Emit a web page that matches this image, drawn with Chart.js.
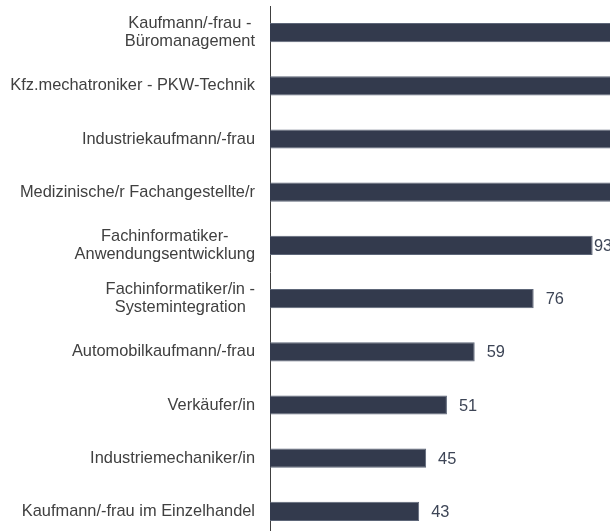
<!DOCTYPE html>
<html>
<head>
<meta charset="utf-8">
<style>
  html, body { margin: 0; padding: 0; overflow: hidden; background: #ffffff; }
  #wrap { position: absolute; left: 0; top: 0; width: 610px; height: 539px; }
</style>
</head>
<body>
<div id="wrap"><canvas id="chartBerufe"></canvas></div>
<script src="https://cdn.jsdelivr.net/npm/chart.js@4"></script>
<script>
(function () {
    "use strict";

    const berufe = [
        ["Kaufmann/-frau -", "Büromanagement"],
        "Kfz.mechatroniker - PKW-Technik",
        "Industriekaufmann/-frau",
        "Medizinische/r Fachangestellte/r",
        ["Fachinformatiker-", "Anwendungsentwicklung"],
        ["Fachinformatiker/in -", "Systemintegration"],
        "Automobilkaufmann/-frau",
        "Verkäufer/in",
        "Industriemechaniker/in",
        "Kaufmann/-frau im Einzelhandel"
    ];
    // top four run past the visible axis end, their exact size can't be read
    const anzahl = [142, 128, 112, 104, 93, 76, 59, 51, 45, 43];
    const xMax = 98;

    const palette = {
        bar: "#333a4d",
        barEdge: "#5d6678",
        axis: "#404040",
        label: "#404040",
        value: "#3d4556"
    };
    const font = '16.4px "Liberation Sans", Arial, sans-serif';

    // category labels: lines centred on each other, block right-aligned to the axis
    const labelPlugin = {
        id: "labelPlugin",
        afterDraw(chart) {
            const ctx = chart.ctx;
            const yScale = chart.scales.y;
            const right = chart.chartArea.left - 15;
            ctx.save();
            ctx.font = font;
            ctx.fillStyle = palette.label;
            ctx.textAlign = "center";
            ctx.textBaseline = "middle";
            berufe.forEach((lab, i) => {
                const lines = Array.isArray(lab) ? lab : [lab];
                const w = Math.max(...lines.map((l) => ctx.measureText(l).width));
                const cx = right - w / 2;
                const cy = yScale.getPixelForTick(i);
                const lh = 17.5;
                const top = cy - (lines.length - 1) * lh / 2;
                lines.forEach((l, j) => ctx.fillText(l, cx, top + j * lh));
            });

            // value labels right of the bars
            const meta = chart.getDatasetMeta(0);
            ctx.fillStyle = palette.value;
            ctx.textAlign = "left";
            meta.data.forEach((bar, i) => {
                if (anzahl[i] > xMax) return;
                const x = Math.min(bar.x + 12, chart.width - 16);
                ctx.fillText(String(anzahl[i]), x, bar.y + 1);
            });
            ctx.restore();
        }
    };

    new Chart(document.getElementById("chartBerufe"), {
        type: "bar",
        data: {
            labels: berufe,
            datasets: [{
                data: anzahl,
                backgroundColor: palette.bar,
                borderColor: palette.barEdge,
                borderWidth: 1,
                borderSkipped: "left",
                barPercentage: 0.36,
                categoryPercentage: 1
            }]
        },
        options: {
            indexAxis: "y",
            responsive: true,
            maintainAspectRatio: false,
            animation: false,
            layout: { padding: { top: 6, bottom: 1, left: 0, right: 0 } },
            plugins: {
                legend: { display: false },
                tooltip: { enabled: false }
            },
            scales: {
                x: {
                    display: false,
                    min: 0,
                    max: xMax
                },
                y: {
                    grid: { display: false },
                    border: { display: true, color: palette.axis, width: 1 },
                    ticks: { display: false },
                    afterFit(scale) { scale.width = 270; }
                }
            }
        },
        plugins: [labelPlugin]
    });
})();
</script>
</body>
</html>
